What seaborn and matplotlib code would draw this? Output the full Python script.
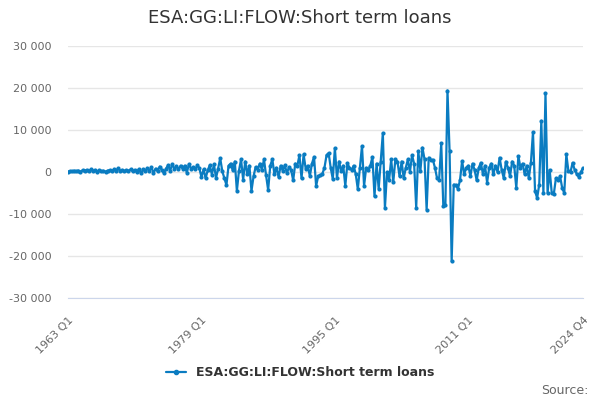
import numpy as np
import pandas as pd
import matplotlib
matplotlib.use('Agg')
import matplotlib.pyplot as plt
import seaborn as sns
from matplotlib.ticker import FuncFormatter

# quarterly values, 1963 Q1 - 2024 Q4 (one row per year)
years = list(range(1963, 2025))
values_by_year = [
    [100, 200, 150, 300],        # 1963
    [200, 350, 100, 400],
    [300, 500, 200, 600],
    [300, 500, 100, 400],
    [200, 300, 100, 350],
    [400, 200, 600, 300],
    [900, 300, 500, 200],
    [400, 300, 600, 200],        # 1970
    [500, 100, 700, -300],
    [600, 200, 900, 300],
    [1100, -200, 800, 300],
    [1300, 500, -300, 800],
    [1600, 300, 1900, 700],
    [1400, 600, 1500, 800],
    [1500, -200, 1900, 800],
    [1200, 600, 1600, 900],
    [-1200, 600, -1500, 400],
    [1600, -600, 1800, -1400],   # 1980
    [800, 3300, 200, -1500],
    [-3100, 1500, 2000, 400],
    [2500, -4500, 300, 3000],
    [-1800, 2500, -500, 1500],
    [-4500, -1000, 1200, 500],
    [2000, 500, 3000, -800],
    [-4300, 1500, 3000, -500],
    [1000, -1200, 1500, 300],
    [1600, -300, 1200, 500],
    [-2000, 2000, 1500, 4000],   # 1990
    [-1500, 4200, 800, 1500],
    [-1000, 2000, 3600, -3300],
    [-1000, -800, -400, 1000],
    [4000, 4500, 1000, -1700],
    [5700, -1500, 2500, 200],
    [1500, -3300, 2100, 1000],
    [500, 1500, -500, -4100],
    [1000, 6200, -3300, 1000],
    [500, 1500, 3600, -5800],
    [2000, -4000, 2500, 9300],   # 2000
    [-8600, 0, -2000, 3000],
    [-2400, 3000, 2500, -1000],
    [2500, -1500, 1000, 3000],
    [0, 4000, 2000, -8500],
    [5000, 300, 5800, 3000],
    [-9000, 3400, 2800, 2900],
    [1000, -1500, -1800, 6800],
    [-8100, -7800, 19400, 5000],
    [-21300, -3000, -3200, -4000],
    [-2000, 2600, -500, 1000],   # 2010
    [1500, -1000, 2000, 500],
    [-2000, 1000, 2200, -500],
    [1500, -2500, 1000, 2000],
    [-500, 1500, 0, 3400],
    [500, -1500, 2500, 1000],
    [-1000, 2500, 1500, -3800],
    [3800, 1000, 2000, -500],
    [1500, -1500, 2200, 9500],
    [-4600, -6200, -3000, 12200],
    [-4900, 18700, -5000, 500],  # 2020
    [-5000, -5200, -1500, -2000],
    [-1000, -3800, -5000, 4200],
    [200, 0, 2200, 500],
    [-500, -1200, 0, 1000],
]

labels = [f'{y} Q{q}' for y in years for q in range(1, 5)]
vals = [v for row in values_by_year for v in row]
df = pd.DataFrame({'i': range(len(vals)), 'period': labels, 'value': vals})

series_name = 'ESA:GG:LI:FLOW:Short term loans'
line_col = '#0a7cc1'

sns.set_style('white')
plt.rcParams['font.family'] = ['DejaVu Sans']

fig = plt.figure(figsize=(6, 4), dpi=100)
ax = fig.add_axes([0.1133, 0.255, 0.8584, 0.63])

sns.lineplot(data=df, x='i', y='value', ax=ax, color=line_col, linewidth=1.6,
             marker='o', markersize=3, markeredgewidth=0, legend=False)

ax.set_xlim(0, len(vals) - 1)
ax.set_ylim(-30000, 30000)
ax.set_yticks(range(-30000, 30001, 10000))
ax.yaxis.set_major_formatter(FuncFormatter(lambda v, p: f'{int(v):,}'.replace(',', ' ')))
ax.grid(axis='y', color='#e6e6e6', linewidth=1)
ax.set_axisbelow(True)

# labelled ticks every 16 years plus the last quarter, small ticks every 4 years
major = [0, 64, 128, 192, len(vals) - 1]
minor = list(range(0, len(vals), 16))
ax.set_xticks(major)
ax.set_xticklabels([labels[k] for k in major], rotation=45, ha='right',
                   rotation_mode='anchor', fontsize=8, color='#666666')
ax.set_xticks(minor, minor=True)
ax.tick_params(axis='x', which='both', length=9, color='#ccd6eb', width=1, pad=3)
ax.tick_params(axis='y', length=0, labelsize=8, labelcolor='#666666', pad=12)

for s in ['top', 'right', 'left']:
    ax.spines[s].set_visible(False)
ax.spines['bottom'].set_color('#ccd6eb')
ax.set_xlabel('')
ax.set_ylabel('')

fig.text(0.5, 0.955, series_name, ha='center', va='center', fontsize=13, color='#333333')

handle = plt.Line2D([], [], color=line_col, linewidth=1.6, marker='o', markersize=3)
fig.legend([handle], [series_name], loc='center', bbox_to_anchor=(0.5, 0.068),
           frameon=False, handlelength=1.6, prop={'weight': 'bold', 'size': 9},
           labelcolor='#333333')

fig.text(0.98, 0.025, 'Source:', ha='right', va='center', fontsize=9, color='#666666')

fig.savefig('out.png', dpi=100)
